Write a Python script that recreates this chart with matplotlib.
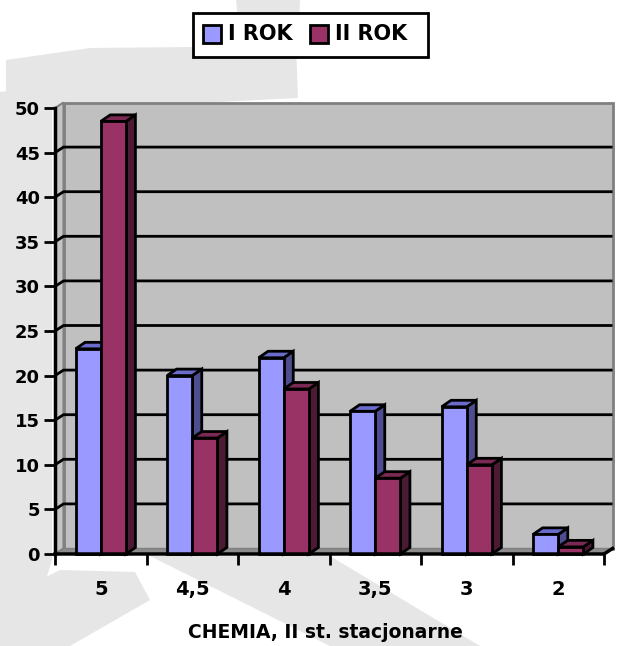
import matplotlib
matplotlib.use("Agg")
import matplotlib.pyplot as plt
from matplotlib.patches import Polygon, Rectangle

# Chart data
categories = ["5", "4,5", "4", "3,5", "3", "2"]
series_names = ["I ROK", "II ROK"]
rok_1 = [23, 20, 22, 16, 16.5, 2.2]
rok_2 = [48.5, 13, 18.5, 8.5, 10, 0.8]
y_ticks = [0, 5, 10, 15, 20, 25, 30, 35, 40, 45, 50]
x_title = "CHEMIA, II st. stacjonarne"

W, H = 618, 646
FONT = "DejaVu Sans"

fig = plt.figure(figsize=(W / 100, H / 100), dpi=100)
fig.patch.set_facecolor("white")


def fp(x, y):
    """Pixel position (origin top-left) to figure fraction."""
    return (x / W, 1 - y / H)


# faint background shapes
bg = "#e6e6e6"
shapes = [
    [(0, 92), (52, 86), (52, 560), (40, 600), (0, 646)],
    [(6, 60), (90, 48), (296, 46), (298, 98), (60, 110), (6, 104)],
    [(236, 0), (300, 0), (298, 50), (242, 58)],
    [(150, 556), (330, 556), (480, 646), (330, 646)],
    [(0, 600), (60, 570), (135, 572), (150, 600), (70, 646), (0, 646)],
]
for s in shapes:
    fig.patches.append(Polygon([fp(*p) for p in s], closed=True,
                               transform=fig.transFigure, facecolor=bg,
                               edgecolor="none", zorder=-1))

# plot area
ax = fig.add_axes([55 / W, (H - 554) / H, (604 - 55) / W, (554 - 108) / H])
ax.set_xlim(0, len(categories))
ax.set_ylim(0, 50)
ax.patch.set_alpha(0)
for sp in ax.spines.values():
    sp.set_visible(False)

px_x = (604 - 55) / len(categories)   # pixels per x unit
px_y = (554 - 108) / 50.0              # pixels per y unit
wdx, wdy = 8.5 / px_x, 5.5 / px_y      # wall depth
bdx, bdy = 9.5 / px_x, 6.5 / px_y      # bar depth
n = len(categories)
top = 50

# back wall, side wall and floor
ax.add_patch(Polygon([(wdx, wdy), (n + wdx, wdy), (n + wdx, top + wdy), (wdx, top + wdy)],
                     closed=True, facecolor="#c0c0c0", edgecolor="#808080", lw=2,
                     clip_on=False, zorder=1))
ax.add_patch(Polygon([(0, 0), (wdx, wdy), (wdx, top + wdy), (0, top)],
                     closed=True, facecolor="#c4c4c4", edgecolor="#808080", lw=1.5,
                     clip_on=False, zorder=1))
ax.add_patch(Polygon([(0, 0), (n, 0), (n + wdx, wdy), (wdx, wdy)],
                     closed=True, facecolor="#8c8c8c", edgecolor="#808080", lw=1,
                     clip_on=False, zorder=1))

# gridlines on the walls
for v in y_ticks[1:-1]:
    ax.plot([0, wdx, n + wdx], [v, v + wdy, v + wdy], color="black", lw=2,
            solid_capstyle="butt", clip_on=False, zorder=2)


def bar3d(x0, w, v, front, topc, side):
    kw = dict(edgecolor="black", lw=2, clip_on=False, joinstyle="miter", zorder=3)
    ax.add_patch(Polygon([(x0 + w, 0), (x0 + w + bdx, bdy), (x0 + w + bdx, v + bdy), (x0 + w, v)],
                         closed=True, facecolor=side, **kw))
    ax.add_patch(Polygon([(x0, v), (x0 + bdx, v + bdy), (x0 + w + bdx, v + bdy), (x0 + w, v)],
                         closed=True, facecolor=topc, **kw))
    ax.add_patch(Rectangle((x0, 0), w, v, facecolor=front, **kw))


bw = 0.275
blue = ("#9999ff", "#6b6bcc", "#4d4d8f")
red = ("#993366", "#7a2952", "#4d1a33")
for i in range(n):
    bar3d(i + 0.225, bw, rok_1[i], *blue)
    bar3d(i + 0.225 + bw, bw, rok_2[i], *red)

# axis lines
ax.plot([0, 0], [0, top], color="black", lw=2.5, clip_on=False, zorder=4)
ax.plot([0, n, n + wdx], [0, 0, wdy], color="black", lw=2.5, clip_on=False, zorder=4)

ax.set_yticks(y_ticks)
ax.set_yticklabels([str(t) for t in y_ticks], fontfamily=FONT, fontweight="bold",
                   fontsize=13)
ax.tick_params(axis="y", direction="out", length=8, width=2, pad=3, colors="black")

ax.set_xticks([i + 0.5 for i in range(n)])
ax.set_xticklabels(categories, fontfamily=FONT, fontweight="bold", fontsize=14)
ax.tick_params(axis="x", which="major", length=0, pad=19)
ax.set_xticks(range(n + 1), minor=True)
ax.tick_params(axis="x", which="minor", direction="out", length=8, width=2)

fig.text(*fp(325, 633), x_title, ha="center", va="center", fontfamily=FONT,
         fontweight="bold", fontsize=13.5)

# legend
fig.patches.append(Rectangle(fp(193, 57), (428 - 193) / W, (57 - 13) / H,
                             transform=fig.transFigure, facecolor="white",
                             edgecolor="black", lw=2, zorder=5))
items = [(203, blue[0], series_names[0], 228), (310, red[0], series_names[1], 335)]
for sx, col, label, tx in items:
    fig.patches.append(Rectangle(fp(sx, 43), 18 / W, 18 / H,
                                 transform=fig.transFigure, facecolor=col,
                                 edgecolor="black", lw=2, zorder=6))
    fig.text(*fp(tx, 34), label, ha="left", va="center", fontfamily=FONT,
             fontweight="bold", fontsize=15, zorder=7)

fig.savefig("out.png", dpi=100, facecolor=fig.get_facecolor())
